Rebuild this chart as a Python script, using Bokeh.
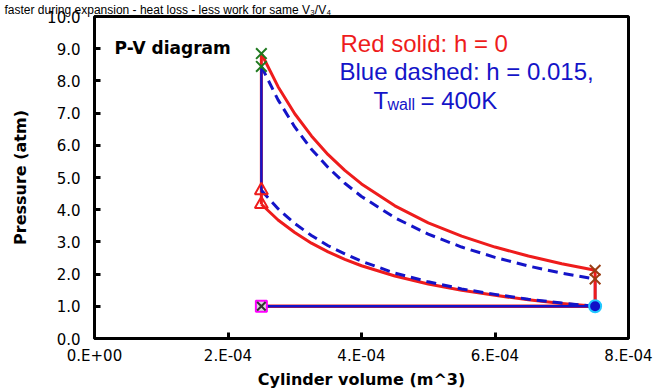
from bokeh.plotting import figure
from bokeh.models import Range1d, Label, FixedTicker, NumeralTickFormatter
from bokeh.embed import file_html
from bokeh.resources import INLINE

# ---- data (volumes in m^3, pressures in atm) ----
vol = [2.5e-4, 2.75e-4, 3.0e-4, 3.25e-4, 3.5e-4, 3.75e-4, 4.0e-4, 4.5e-4, 5.0e-4,
       5.5e-4, 6.0e-4, 6.5e-4, 7.0e-4, 7.5e-4]
red_expansion = [8.85, 7.82, 6.98, 6.29, 5.71, 5.22, 4.80, 4.12, 3.59, 3.18, 2.84, 2.56, 2.32, 2.12]
red_compression = [4.17, 3.68, 3.29, 2.96, 2.69, 2.46, 2.26, 1.94, 1.69, 1.50, 1.34, 1.20, 1.09, 1.00]
blue_expansion = [8.45, 7.41, 6.57, 5.88, 5.31, 4.82, 4.41, 3.75, 3.24, 2.84, 2.52, 2.25, 2.03, 1.85]
blue_compression = [4.60, 4.03, 3.57, 3.20, 2.88, 2.63, 2.40, 2.03, 1.76, 1.54, 1.37, 1.22, 1.10, 1.00]

v_min, v_max = 2.5e-4, 7.5e-4
p_intake = 1.0

x_ticks = [0, 2e-4, 4e-4, 6e-4, 8e-4]
x_tick_labels = ["0.E+00", "2.E-04", "4.E-04", "6.E-04", "8.E-04"]
y_ticks = [0, 1, 2, 3, 4, 5, 6, 7, 8, 9, 10]

title_text = "faster during expansion - heat loss - less work for same V₃/V₄"

RED = "#ee1c1c"
BLUE = "#1414c8"
GREEN = "#1f7a1f"
BROWN = "#9a3e14"

p = figure(width=656, height=392, output_backend="svg", toolbar_location=None,
           x_range=Range1d(0, 8e-4), y_range=Range1d(0, 10),
           min_border_left=94, min_border_right=28, min_border_top=16, min_border_bottom=54)
p.background_fill_color = "white"
p.border_fill_color = "white"
p.grid.visible = False
p.outline_line_color = "black"
p.outline_line_width = 3

p.title.text = title_text
p.title.text_font = "Liberation Sans"
p.title.text_font_size = "12px"
p.title.text_font_style = "normal"
p.title.align = "left"
p.title.offset = -90
p.title.standoff = 0
p.title.text_color = "black"

for ax in (p.xaxis[0], p.yaxis[0]):
    ax.axis_line_color = None
    ax.major_tick_in = 6
    ax.major_tick_out = 0
    ax.major_tick_line_width = 3
    ax.major_tick_line_color = "black"
    ax.minor_tick_line_color = None
    ax.major_label_text_font = "DejaVu Sans"
    ax.major_label_text_font_size = "15px"
    ax.major_label_text_color = "black"
    ax.axis_label_text_font = "DejaVu Sans"
    ax.axis_label_text_font_style = "bold"
    ax.axis_label_text_font_size = "16px"
    ax.axis_label_text_color = "black"

p.xaxis.ticker = FixedTicker(ticks=x_ticks)
p.xaxis.major_label_overrides = {t: l for t, l in zip(x_ticks, x_tick_labels)}
p.xaxis.major_label_standoff = 8
p.xaxis.axis_label = "Cylinder volume (m^3)"
p.xaxis.axis_label_standoff = 2
p.yaxis.ticker = FixedTicker(ticks=y_ticks)
p.yaxis.formatter = NumeralTickFormatter(format="0.0")
p.yaxis.major_label_standoff = 14
p.yaxis.axis_label = "Pressure (atm)"
p.yaxis.axis_label_standoff = 14

# red (h = 0) cycle, solid
p.line(vol, red_compression, line_color=RED, line_width=3, line_join="round")
p.line([v_min, v_min], [red_compression[0], red_expansion[0]], line_color=RED, line_width=3)
p.line(vol, red_expansion, line_color=RED, line_width=3, line_join="round")
p.line([v_min, v_max], [p_intake, p_intake], line_color=RED, line_width=3.5)

# blue (h = 0.015) cycle
p.line([v_max, v_max], [p_intake, blue_expansion[-1]], line_color=BLUE, line_width=2.5)
p.line([v_max, v_max], [p_intake, red_expansion[-1]], line_color=RED, line_width=3)
p.line([v_min, v_min], [blue_compression[0], blue_expansion[0]], line_color=BLUE, line_width=2.5)
p.line([v_min, v_max], [p_intake, p_intake], line_color=BLUE, line_width=2.5)
p.line(vol, blue_compression, line_color=BLUE, line_width=3, line_dash="10 6", line_join="round")
p.line(vol, blue_expansion, line_color=BLUE, line_width=3, line_dash="10 6", line_join="round")

# state markers
p.scatter([v_min, v_min], [red_expansion[0], blue_expansion[0]], marker="x", size=15,
          line_color=GREEN, line_width=2)
p.scatter([v_min, v_min], [blue_compression[0], red_compression[0]], marker="triangle", size=13,
          fill_color=None, line_color=RED, line_width=2)
p.scatter([v_min], [p_intake], marker="square", size=11, fill_color="#d8d8d8",
          line_color="#ff00ff", line_width=2)
p.scatter([v_min], [p_intake], marker="x", size=12, line_color="#333333", line_width=2)
p.scatter([v_max, v_max], [red_expansion[-1], blue_expansion[-1]], marker="x", size=15,
          line_color=BROWN, line_width=2)
p.scatter([v_max], [p_intake], marker="circle", size=12, fill_color="#1010c8",
          line_color="#22c8ff", line_width=2)

# texts (positioned via data coordinates of the frame)
def px2x(px):
    return (px - 94) * 1.4981e-6

def py2y(py):
    return (338 - py) / 32.2

p.add_layout(Label(x=px2x(114), y=py2y(47), text="P-V diagram", text_font="DejaVu Sans",
                   text_font_style="bold", text_font_size="17px", text_color="black",
                   text_baseline="alphabetic"))
p.add_layout(Label(x=px2x(340), y=py2y(43), text="Red solid: h = 0", text_font="Liberation Sans",
                   text_font_size="24px", text_color=RED, text_baseline="alphabetic"))
p.add_layout(Label(x=px2x(339), y=py2y(71), text="Blue dashed: h = 0.015,", text_font="Liberation Sans",
                   text_font_size="24px", text_color=BLUE, text_baseline="alphabetic"))
p.add_layout(Label(x=px2x(373), y=py2y(100), text="T", text_font="Liberation Sans",
                   text_font_size="24px", text_color=BLUE, text_baseline="alphabetic"))
p.add_layout(Label(x=px2x(387), y=py2y(104), text="wall", text_font="Liberation Sans",
                   text_font_size="16px", text_color=BLUE, text_baseline="alphabetic"))
p.add_layout(Label(x=px2x(420), y=py2y(100), text="= 400K", text_font="Liberation Sans",
                   text_font_size="24px", text_color=BLUE, text_baseline="alphabetic"))

open("out.html", "w").write(file_html(p, INLINE))
